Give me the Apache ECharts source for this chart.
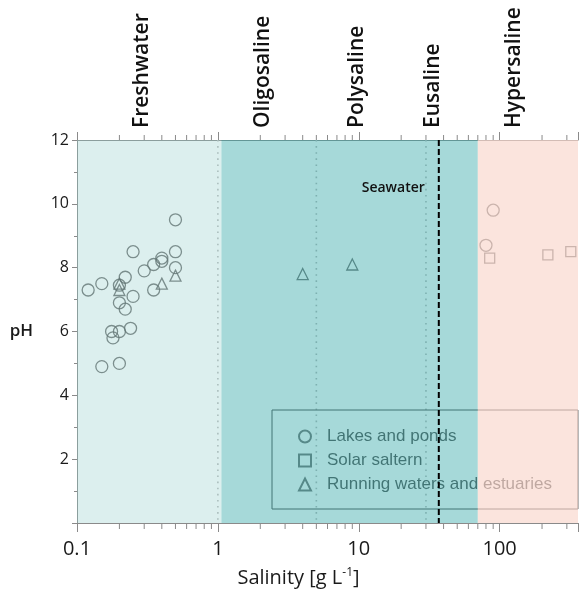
<!DOCTYPE html>
<html><head><meta charset="utf-8">
<script src="https://cdn.jsdelivr.net/npm/echarts@6/dist/echarts.min.js"></script>
<style>html,body{margin:0;padding:0;background:#fff}#c{width:581px;height:593px}</style>
</head><body><div id="c"></div>
<script>
// ---- data ----
const seriesNames = ['Lakes and ponds', 'Solar saltern', 'Running waters and estuaries'];
const lakesAndPonds = [
  [0.12, 7.3], [0.15, 7.5], [0.15, 4.9], [0.2, 5.0], [0.176, 6.0], [0.18, 5.8], [0.2, 6.0],
  [0.24, 6.1], [0.2, 6.9], [0.22, 6.7], [0.25, 7.1], [0.2, 7.45], [0.22, 7.7], [0.25, 8.5],
  [0.3, 7.9], [0.35, 8.1], [0.35, 7.3], [0.4, 8.3], [0.4, 8.2], [0.5, 9.5], [0.5, 8.5],
  [0.5, 8.0], [80, 8.7], [90, 9.8]
];
const solarSaltern = [[85, 8.3], [220, 8.4], [320, 8.5]];
const runningWaters = [[0.2, 7.5], [0.2, 7.3], [0.4, 7.5], [0.5, 7.75], [4, 7.8], [9, 8.1]];
const zoneBounds = [[0.1, 1.06], [1.06, 70], [70, 360]];
const zoneNames = ['Freshwater', 'Oligosaline', 'Polysaline', 'Eusaline', 'Hypersaline'];
const zoneNameX = [0.29, 2.08, 9.7, 33.6, 127];
const guideLines = [1, 5, 30];
const seawater = 37;
const seawaterLabel = 'Seawater';
const xMajorTicks = [0.1, 1, 10, 100];
const xMinorTicks = [0.2, 0.3, 0.4, 0.5, 0.6, 0.7, 0.8, 0.9, 2, 3, 4, 5, 6, 7, 8, 9,
  20, 30, 40, 50, 60, 70, 80, 90, 200, 300];
const xMin = 0.1, xMax = 360, yMin = 0, yMax = 12, yStep = 2;

// ---- styles ----
const zoneColors = ['rgba(142,203,200,0.31)', 'rgba(48,167,167,0.43)', 'rgba(249,214,204,0.66)'];
const markGray = '#505050';
const axisGray = '#8a8a8a';
const FONT = '"Open Sans", sans-serif';

const chart = echarts.init(document.getElementById('c'));

function fmtMajor(v) {
  for (const m of xMajorTicks) if (Math.abs(Math.log10(v / m)) < 1e-6) return String(m);
  return '';
}
const logAxisBase = {
  type: 'log', logBase: 10, min: xMin, max: xMax,
  splitLine: { show: false }, minorTick: { show: false }, minorSplitLine: { show: false }
};
const scatterStyle = { color: 'rgba(0,0,0,0)', borderColor: markGray, borderWidth: 1.3 };

chart.setOption({
  animation: false,
  grid: { left: 77, right: 0, top: 140, bottom: 70 },
  xAxis: [
    Object.assign({}, logAxisBase, {
      position: 'bottom',
      name: 'Salinity [g L{sup|-1}]',
      nameLocation: 'middle', nameGap: 44,
      nameTextStyle: { fontFamily: FONT, fontSize: 20, color: '#1a1a1a', padding: [0, 58, 0, 0],
        rich: { sup: { fontFamily: FONT, fontSize: 12, color: '#1a1a1a', verticalAlign: 'top', padding: [0, 0, 10, 0] } } },
      axisLine: { show: true, lineStyle: { color: axisGray, width: 1 } },
      axisTick: { show: true, inside: false, length: 9, lineStyle: { color: axisGray } },
      axisLabel: { show: true, margin: 16, fontFamily: FONT, fontSize: 20, color: '#1a1a1a', formatter: fmtMajor }
    }),
    Object.assign({}, logAxisBase, {
      position: 'top',
      axisLine: { show: true, lineStyle: { color: axisGray, width: 1 } },
      axisTick: { show: true, inside: false, length: 8, lineStyle: { color: axisGray } },
      axisLabel: { show: false }
    })
  ],
  yAxis: {
    type: 'value', min: yMin, max: yMax, interval: yStep,
    name: 'pH', nameLocation: 'middle', nameGap: 44, nameRotate: 0,
    nameTextStyle: { fontFamily: FONT, fontSize: 17, fontWeight: 600, color: '#1a1a1a' },
    splitLine: { show: false },
    axisLine: { show: true, lineStyle: { color: axisGray, width: 1 } },
    axisTick: { show: true, inside: false, length: 5, lineStyle: { color: axisGray } },
    minorTick: { show: true, splitNumber: 2, length: 3, lineStyle: { color: axisGray } },
    axisLabel: { margin: 8, fontFamily: FONT, fontSize: 16, color: '#1a1a1a',
      formatter: v => (v === 0 ? '' : String(v)) }
  },
  legend: {
    data: seriesNames, orient: 'vertical', left: 272, top: 410,
    padding: [18, 26, 16, 26], itemWidth: 12, itemHeight: 12, itemGap: 7,
    borderColor: markGray, borderWidth: 1, selectedMode: false,
    textStyle: { fontFamily: '"Liberation Sans", Arial, sans-serif', fontSize: 17, color: markGray, padding: [0, 0, 0, 11] }
  },
  series: [
    { name: seriesNames[0], type: 'scatter', symbol: 'circle', symbolSize: 12, data: lakesAndPonds,
      itemStyle: scatterStyle, emphasis: { disabled: true }, z: 2 },
    { name: seriesNames[1], type: 'scatter', symbol: 'rect', symbolSize: 10, data: solarSaltern,
      itemStyle: scatterStyle, emphasis: { disabled: true }, z: 2 },
    { name: seriesNames[2], type: 'scatter', symbol: 'triangle', symbolSize: 11, data: runningWaters,
      itemStyle: scatterStyle, emphasis: { disabled: true }, z: 2 },
    // dotted guide lines (under overlay)
    { type: 'custom', z: 3, silent: true, data: guideLines.map(v => [v, yMin]),
      renderItem: (params, api) => {
        const a = api.coord([api.value(0), yMax]), b = api.coord([api.value(0), yMin]);
        return { type: 'line', shape: { x1: a[0], y1: a[1], x2: b[0], y2: b[1] },
          style: { stroke: '#b8b8b8', lineWidth: 1.6, lineDash: [1.6, 4.5] } };
      } },
    // salinity zone overlays
    { type: 'custom', z: 10, silent: true, data: zoneBounds,
      renderItem: (params, api) => {
        const a = api.coord([api.value(0), yMax]), b = api.coord([api.value(1), yMin]);
        return { type: 'rect', shape: { x: a[0], y: a[1], width: b[0] - a[0], height: b[1] - a[1] },
          style: { fill: zoneColors[params.dataIndex] } };
      } },
    // seawater line + label
    { type: 'custom', z: 11, silent: true, data: [[seawater, yMin]],
      renderItem: (params, api) => {
        const a = api.coord([api.value(0), yMax]), b = api.coord([api.value(0), yMin]);
        return { type: 'group', children: [
          { type: 'line', shape: { x1: a[0], y1: a[1], x2: b[0], y2: b[1] },
            style: { stroke: '#000', lineWidth: 2, lineDash: [6, 3] } },
          { type: 'text', x: a[0] - 14, y: a[1] + 48,
            style: { text: seawaterLabel, fill: '#111', font: '600 14px ' + FONT, align: 'right', verticalAlign: 'middle' } }
        ] };
      } },
    // minor ticks on top and bottom axes
    { type: 'custom', z: 11, silent: true, data: xMinorTicks.map(v => [v, yMin]),
      renderItem: (params, api) => {
        const b = api.coord([api.value(0), yMin]), t = api.coord([api.value(0), yMax]);
        return { type: 'group', children: [
          { type: 'line', shape: { x1: b[0], y1: b[1], x2: b[0], y2: b[1] + 6 }, style: { stroke: axisGray, lineWidth: 1 } },
          { type: 'line', shape: { x1: t[0], y1: t[1], x2: t[0], y2: t[1] - 5 }, style: { stroke: axisGray, lineWidth: 1 } }
        ] };
      } },
    // zone names above plot
    { type: 'custom', z: 11, silent: true, data: zoneNameX.map(v => [v, yMax]),
      renderItem: (params, api) => {
        const t = api.coord([api.value(0), yMax]);
        return { type: 'text', x: t[0], y: t[1] - 12, rotation: Math.PI / 2,
          style: { text: zoneNames[params.dataIndex], fill: '#111', font: '600 21px ' + FONT, align: 'left', verticalAlign: 'middle' } };
      } }
  ]
});
</script></body></html>
